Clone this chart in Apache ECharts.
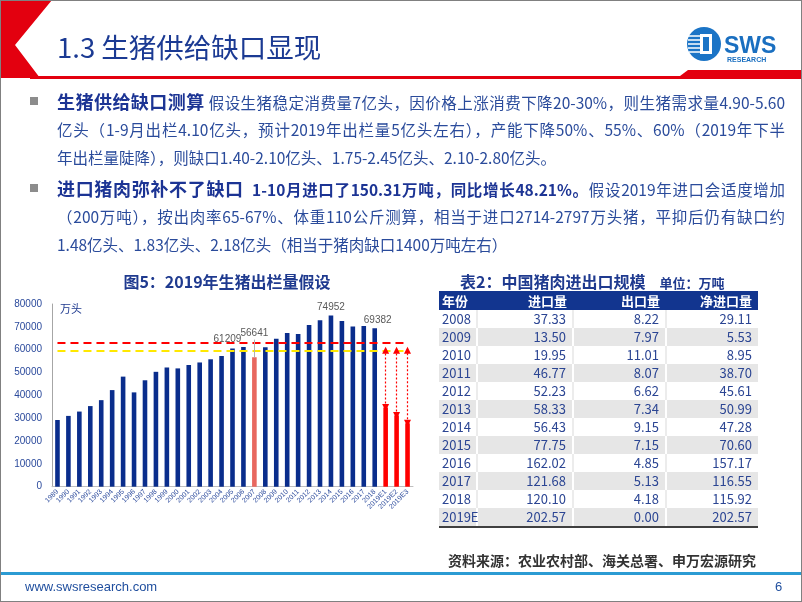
<!DOCTYPE html>
<html>
<head>
<meta charset="utf-8">
<script src="https://cdn.jsdelivr.net/npm/echarts/dist/echarts.min.js"></script>
<style>
html,body{margin:0;padding:0;background:#fff;}
#slide{position:relative;width:802px;height:602px;overflow:hidden;font-family:"Noto Sans CJK SC","Noto Sans",sans-serif;}
#chart{position:absolute;left:0;top:0;width:802px;height:602px;}
.ov{position:absolute;pointer-events:none;}
#deco{position:absolute;left:0;top:0;}
.title{left:57px;top:27px;font-size:27.5px;line-height:38px;color:#1b3a93;white-space:nowrap;}
.ln{position:absolute;left:57px;width:728px;height:28px;line-height:28px;font-size:15.5px;color:#2a4b9b;white-space:nowrap;}
.j{text-align:justify;text-align-last:justify;}
.lead{font-size:18px;font-weight:bold;color:#1c3494;}
.b{font-weight:bold;color:#1c3494;}
#tblTitle{left:460px;top:269px;font-size:16px;font-weight:bold;color:#1f3a8f;line-height:24px;white-space:nowrap;}
#tblTitle span{font-size:13px;margin-left:14px;}
#tbl{position:absolute;left:439px;top:291px;width:319px;border-collapse:collapse;table-layout:fixed;font-size:13px;color:#2b4593;}
#tbl td{padding:0;height:18px;line-height:18px;text-align:right;padding-right:6px;white-space:nowrap;}
#tbl td.y{text-align:left;padding-left:3px;padding-right:0;}
#tbl tr.hd td{background:#12358f;color:#fff;font-weight:bold;height:19px;line-height:19px;}
#tbl tr.g td{background:#e6e6e6;border-left:2px solid #fff;}
#tbl tr.w td{background:#fff;border-left:2px solid #ececec;}
#tbl tr td:first-child{border-left:none;}
#tbl tr.last td{border-bottom:2px solid #404040;}
#src{left:448px;top:549px;font-size:14px;font-weight:bold;color:#333;line-height:22px;white-space:nowrap;}
#url{left:25px;top:578px;font-size:13px;color:#1f4e9e;font-family:"Liberation Sans",Arial,sans-serif;line-height:18px;}
#pg{left:775px;top:578px;font-size:13px;color:#1f4e9e;font-family:"Liberation Sans",Arial,sans-serif;line-height:18px;}
#frame{position:absolute;left:0;top:0;width:802px;height:602px;box-sizing:border-box;border:1px solid #808080;pointer-events:none;}
</style>
</head>
<body>
<div id="slide">
  <div id="chart"></div>
  <svg id="deco" width="802" height="602" class="ov">
    <polygon points="0,0 52,0 15,45 40,78 0,78" fill="#e3000f"/>
    <rect x="30" y="76" width="772" height="3" fill="#e3000f"/>
    <polygon points="676,79 688,70 802,70 802,79" fill="#e3000f"/>
    <rect x="30" y="97" width="8" height="8" fill="#8c8c8c"/>
    <rect x="30" y="184" width="8" height="8" fill="#8c8c8c"/>
    <rect x="0" y="572" width="802" height="3" fill="#2b9bd3"/>
    <g>
      <circle cx="704" cy="44" r="17" fill="#1b74c6"/>
      <g stroke="#fff" stroke-width="1.5">
        <line x1="688" y1="36" x2="700" y2="36"/>
        <line x1="688" y1="40" x2="700" y2="40"/>
        <line x1="688" y1="44" x2="700" y2="44"/>
        <line x1="688" y1="48" x2="700" y2="48"/>
        <line x1="689" y1="52" x2="700" y2="52"/>
      </g>
      <rect x="700" y="34" width="12" height="20" fill="#fff"/>
      <rect x="703" y="37" width="6" height="14" fill="#1b74c6"/>
      <text x="724" y="53" font-family="Liberation Sans, Arial, sans-serif" font-weight="bold" font-size="23" fill="#1a6fc0">SWS</text>
      <text x="727" y="62" font-family="Liberation Sans, Arial, sans-serif" font-weight="bold" font-size="7" fill="#1a6fc0">RESEARCH</text>
    </g>
  </svg>
  <div class="ov title">1.3 生猪供给缺口显现</div>

  <div class="ln j" style="top:87px;"><span class="lead">生猪供给缺口测算</span> 假设生猪稳定消费量7亿头，因价格上涨消费下降20-30%，则生猪需求量4.90-5.60</div>
  <div class="ln j" style="top:115px;">亿头（1-9月出栏4.10亿头，预计2019年出栏量5亿头左右），产能下降50%、55%、60%（2019年下半</div>
  <div class="ln" style="top:143px;">年出栏量陡降），则缺口1.40-2.10亿头、1.75-2.45亿头、2.10-2.80亿头。</div>

  <div class="ln j" style="top:174px;"><span class="lead">进口猪肉弥补不了缺口</span>&nbsp;&nbsp;<span class="b">1-10月进口了150.31万吨，同比增长48.21%。</span>假设2019年进口会适度增加</div>
  <div class="ln j" style="top:202px;">（200万吨），按出肉率65-67%、体重110公斤测算，相当于进口2714-2797万头猪，平抑后仍有缺口约</div>
  <div class="ln" style="top:230px;">1.48亿头、1.83亿头、2.18亿头（相当于猪肉缺口1400万吨左右）</div>

  <div id="tblTitle" class="ov">表2：中国猪肉进出口规模<span>单位：万吨</span></div>
  <table id="tbl"></table>
  <div id="src" class="ov">资料来源：农业农村部、海关总署、申万宏源研究</div>
  <div id="url" class="ov">www.swsresearch.com</div>
  <div id="pg" class="ov">6</div>
  <div id="frame"></div>
</div>
<script>
// ---- chart data ----
const years = ['1989','1990','1991','1992','1993','1994','1995','1996','1997','1998',
  '1999','2000','2001','2002','2003','2004','2005','2006','2007','2008',
  '2009','2010','2011','2012','2013','2014','2015','2016','2017','2018',
  '2019E1','2019E2','2019E3'];
const hogOutput = [29200,31000,32900,35300,37900,42300,48200,41300,46600,50300,
  52200,51800,53300,54400,55800,57200,60500,61209,56641,61100,
  64800,67300,66900,70800,72900,74952,72600,70100,70400,69382,
  34691,31222,27753];
const labeledYears = ['2006','2007','2014','2018'];
const redLineLevel = 63200;
const yellowLineLevel = 59700;
const leaderTop = 64400;

// ---- table data ----
const tblHeader = ['年份','进口量','出口量','净进口量'];
const tblYears = ['2008','2009','2010','2011','2012','2013','2014','2015','2016','2017','2018','2019E'];
const importVol = ['37.33','13.50','19.95','46.77','52.23','58.33','56.43','77.75','162.02','121.68','120.10','202.57'];
const exportVol = ['8.22','7.97','11.01','8.07','6.62','7.34','9.15','7.15','4.85','5.13','4.18','0.00'];
const netImport = ['29.11','5.53','8.95','38.70','45.61','50.99','47.28','70.60','157.17','116.55','115.92','202.57'];

// build table
(function(){
  const t = document.getElementById('tbl');
  const cg = document.createElement('colgroup');
  [38,96,93,92].forEach(w=>{const c=document.createElement('col');c.style.width=w+'px';cg.appendChild(c);});
  t.appendChild(cg);
  const hr = document.createElement('tr'); hr.className='hd';
  tblHeader.forEach((h,i)=>{const td=document.createElement('td');td.textContent=h;if(i===0)td.className='y';hr.appendChild(td);});
  t.appendChild(hr);
  tblYears.forEach((y,i)=>{
    const tr=document.createElement('tr');
    tr.className=(i%2===1?'g':'w')+(i===tblYears.length-1?' last':'');
    [y,importVol[i],exportVol[i],netImport[i]].forEach((v,k)=>{
      const td=document.createElement('td');td.textContent=v;if(k===0)td.className='y';tr.appendChild(td);
    });
    t.appendChild(tr);
  });
})();

const chart = echarts.init(document.getElementById('chart'), null, {renderer:'canvas'});
const estNames = years.filter(y=>y.indexOf('E')>0);
const estValues = estNames.map(n=>hogOutput[years.indexOf(n)]);

const arrowLines = estNames.map((n,i)=>[
  {coord:[n, estValues[i]]},
  {coord:[n, yellowLineLevel]}
]);

const option = {
  animation:false,
  graphic:[
    {type:'text', x:227, y:282, style:{text:'图5：2019年生猪出栏量假设', fill:'#1f3a8f', font:'bold 16px "Noto Sans CJK SC"', textAlign:'center', textVerticalAlign:'middle', verticalAlign:'middle'}},
    {type:'text', x:60, y:309, style:{text:'万头', fill:'#1f3a8f', font:'11px "Noto Sans CJK SC"', textAlign:'left', textVerticalAlign:'middle', verticalAlign:'middle'}}
  ],
  grid:{left:52, top:304, width:361, height:182.7, containLabel:false},
  xAxis:{
    type:'category', data:years,
    axisLine:{lineStyle:{color:'#bfbfbf'}},
    axisTick:{show:false},
    axisLabel:{interval:0, rotate:45, fontSize:7, color:'#2b4a9c', margin:4, fontFamily:'Arial'}
  },
  yAxis:{
    type:'value', min:0, max:80000, interval:10000,
    axisLine:{show:true, lineStyle:{color:'#a6a6a6'}},
    axisTick:{show:false},
    splitLine:{show:false},
    axisLabel:{fontSize:10, color:'#2b4a9c', margin:10, fontFamily:'Arial', formatter:function(v){return String(v);}}
  },
  series:[{
    type:'bar',
    barWidth:4.6,
    z:3,
    data: hogOutput.map((v,i)=>{
      const name = years[i];
      const item = {value:v};
      if (labeledYears.indexOf(name) >= 0) item.label = {show:true};
      return item;
    }),
    itemStyle:{
      color: function(p){
        const n = years[p.dataIndex];
        if (n==='2007') return '#e8675f';
        if (n.indexOf('E')>0) return '#ff0000';
        return '#0a2d8c';
      }
    },
    label:{show:false, position:'top', distance:3, color:'#595959', fontSize:10, fontFamily:'Arial'},
    labelLayout: function(p){
      const n = years[p.dataIndex];
      if (n==='2006') return {dx:-16};
      if (n==='2007') return {dy:-16};
      if (n==='2018') return {dx:3};
      return {};
    },
    markLine:{
      silent:true,
      symbol:'none',
      label:{show:false},
      data:[
        [{coord:[years[0], redLineLevel], lineStyle:{color:'#ff0000', type:[8,5], width:2}},
         {coord:[years[years.length-1], redLineLevel]}],
        [{coord:[years[0], yellowLineLevel], lineStyle:{color:'#ffe800', type:[8,5], width:2}},
         {coord:[years[years.length-1], yellowLineLevel]}],
        [{coord:['2007', hogOutput[years.indexOf('2007')]], lineStyle:{color:'#b0b0b0', type:'solid', width:1}},
         {coord:['2007', leaderTop]}]
      ]
    }
  },{
    type:'line',
    data:[],
    z:5,
    markLine:{
      silent:true,
      symbol:['triangle','triangle'],
      symbolSize:[7,7],
      label:{show:false},
      lineStyle:{color:'#ff0000', type:[2,2], width:1.2},
      data: arrowLines
    }
  }]
};
chart.setOption(option);
</script>
</body>
</html>
